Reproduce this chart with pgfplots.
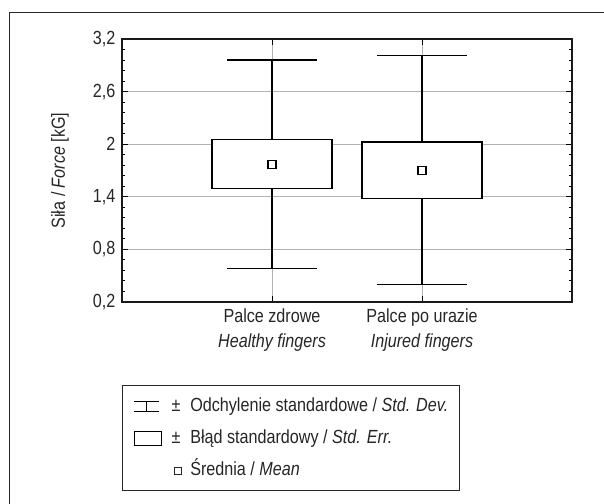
\documentclass[border=0pt]{standalone}
\usepackage{fontspec}
\setmainfont{Liberation Sans}[FakeStretch=0.85]
\usepackage{pgfplots}
\pgfplotsset{compat=1.18}
\usepgfplotslibrary{statistics}
\begin{document}
\fontsize{9.5}{12.5}\selectfont
\begin{tikzpicture}
\useasboundingbox (0,0) rectangle (302pt,-251.5pt);
\draw[line width=0.6pt, black!85] (4.75pt,-270pt) |- (320pt,-6.35pt);
\begin{axis}[
  at={(61pt,-151pt)}, anchor=south west,
  scale only axis, width=225pt, height=131.5pt,
  xmin=0, xmax=3, ymin=0.2, ymax=3.2,
  xtick={1,2},
  xticklabels={{Palce zdrowe\\\textit{Healthy fingers}},{Palce po urazie\\\textit{Injured fingers}}},
  xticklabel style={align=center, font=\fontsize{9.5}{12.5}\selectfont, text=black!85},
  ytick={0.2,0.8,1.4,2,2.6,3.2}, minor y tick num=4,
  yticklabel style={font=\fontsize{9.5}{12.5}\selectfont, text=black!85},
  /pgf/number format/use comma, /pgf/number format/fixed,
  /pgf/number format/precision=1, /pgf/number format/assume math mode=true,
  ylabel={Siła / \textit{Force} [kG]},
  ylabel style={at={(axis description cs:-0.138,0.5)}, anchor=center, font=\fontsize{9.5}{12.5}\selectfont, text=black!85},
  grid=major, major grid style={black!30, line width=0.5pt},
  axis line style={line width=0.6pt, black!90},
  tick style={black, line width=0.5pt}, tick align=inside,
  major tick length=3pt, minor tick length=1.5pt,
  legend style={at={(axis description cs:0,-0.3156)}, anchor=north west,
    draw=black!85, line width=0.6pt, inner xsep=5.5pt, inner ysep=6.25pt,
    row sep=8pt, column sep=5pt,
    nodes={inner sep=0pt, text height=6.5pt, text depth=1.5pt, text=black!85,
      font=\fontsize{9.5}{12.5}\selectfont}},
  legend cell align=left,
  boxplot/draw direction=y,
  boxplot/draw/median/.code={},
]
\addlegendimage{legend image code/.code={
  \draw[line width=0.5pt, black] (0pt,2.5pt) -- (12.5pt,2.5pt);
  \draw[line width=0.5pt, black] (6.25pt,2.5pt) -- (6.25pt,-2.5pt);
  \draw[line width=0.5pt, black] (0pt,-2.5pt) -- (12.5pt,-2.5pt);
  \path[draw=none] (0pt,0pt) -- (13.5pt,0pt);}}
\addlegendentry{\makebox[9.3pt][l]{±}Odchylenie standardowe / \textit{Std. Dev.}}
\addlegendimage{legend image code/.code={
  \draw[line width=0.55pt, black] (0pt,-3.5pt) rectangle (13.5pt,3.5pt);}}
\addlegendentry{\makebox[9.3pt][l]{±}Błąd standardowy / \textit{Std. Err.}}
\addlegendimage{legend image code/.code={
  \path[draw=none, fill=none] (0pt,-3.5pt) rectangle (13.5pt,3.5pt);}}
\addlegendentry{\makebox[9.3pt][l]{\hspace{1pt}\raisebox{0.6pt}{\setlength{\fboxrule}{0.5pt}\setlength{\fboxsep}{0pt}\fbox{\rule{0pt}{3.2pt}\hspace{3.2pt}}}}Średnia / \textit{Mean}}

\addplot[forget plot, black, solid, line width=0.55pt, fill=white,
  boxplot prepared={draw position=1, lower whisker=0.58, lower quartile=1.49,
    median=1.77, upper quartile=2.05, upper whisker=2.96,
    box extend=0.8, whisker extend=0.6}] coordinates {};
\addplot[forget plot, black, solid, line width=0.55pt, fill=white,
  boxplot prepared={draw position=2, lower whisker=0.40, lower quartile=1.38,
    median=1.705, upper quartile=2.025, upper whisker=3.01,
    box extend=0.8, whisker extend=0.6}] coordinates {};
\addplot[forget plot, only marks, mark=square, mark size=2pt,
  mark options={line width=0.55pt, black, fill=white}]
  coordinates {(1,1.77) (2,1.705)};
\end{axis}
\end{tikzpicture}
\end{document}
